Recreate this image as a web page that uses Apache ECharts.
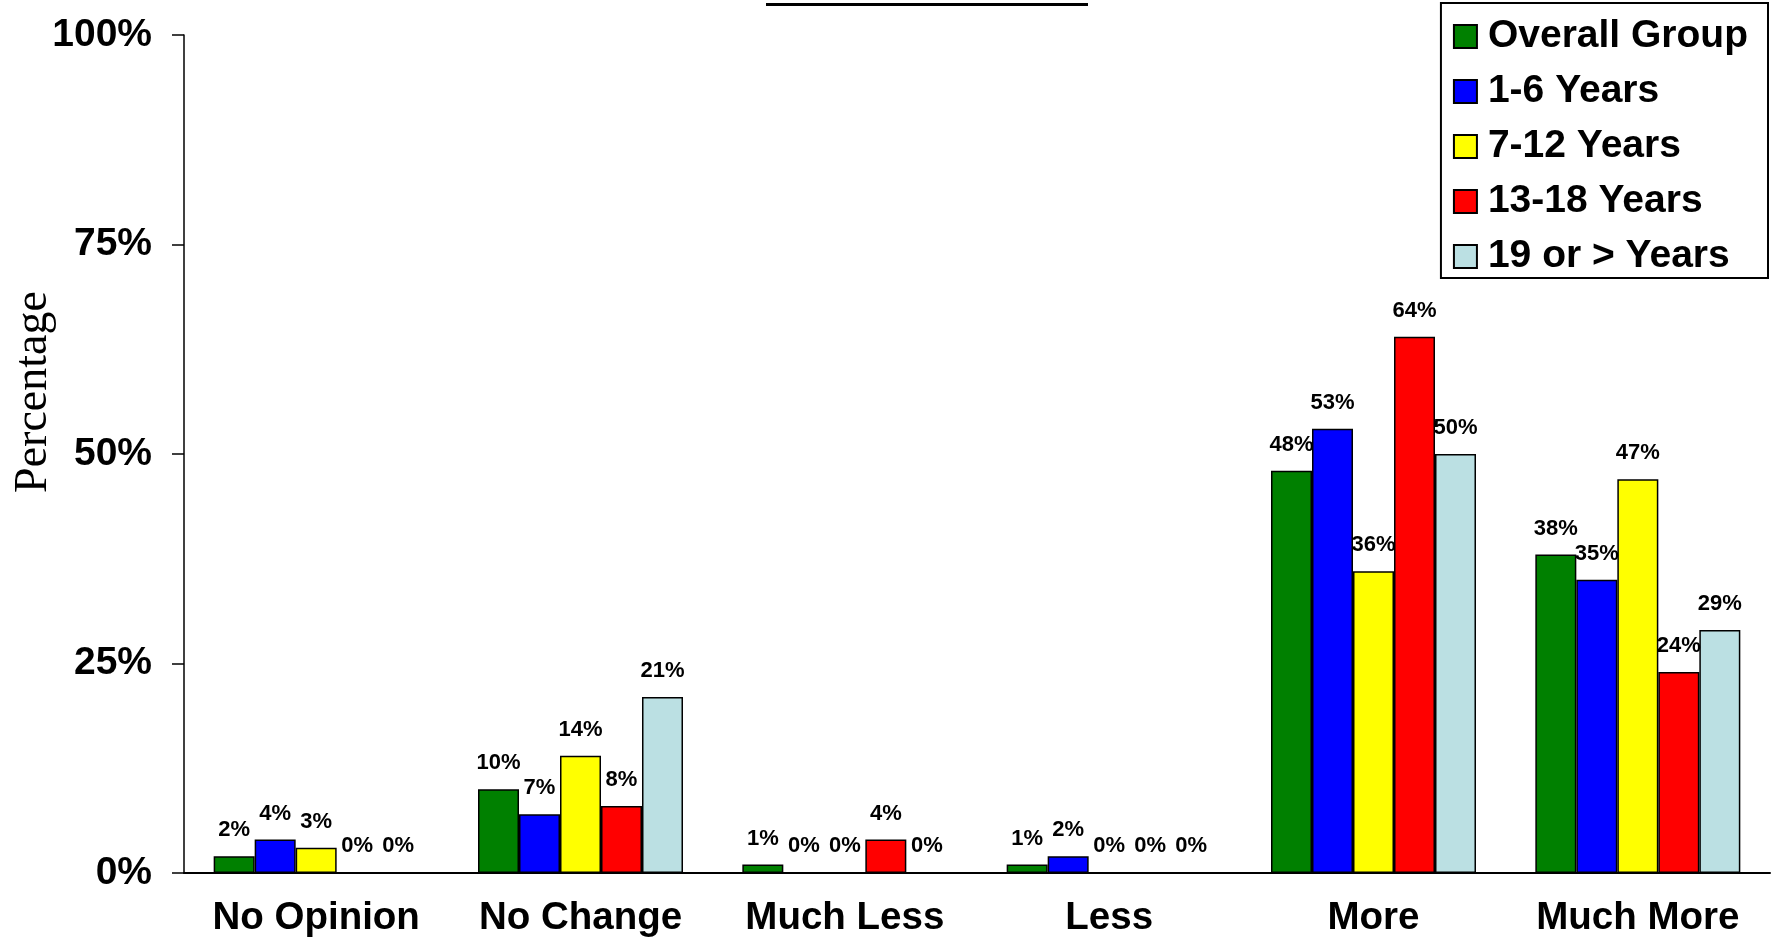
<!DOCTYPE html>
<html>
<head>
<meta charset="utf-8">
<script src="https://cdn.jsdelivr.net/npm/echarts@6/dist/echarts.min.js"></script>
<style>
html,body{margin:0;padding:0;background:#fff;}
#chart{width:1773px;height:938px;}
</style>
</head>
<body>
<div id="chart"></div>
<script>
const categories = ['No Opinion', 'No Change', 'Much Less', 'Less', 'More', 'Much More'];
const seriesNames = ['Overall Group', '1-6 Years', '7-12 Years', '13-18 Years', '19 or > Years'];
const overallGroup = [2, 10, 1, 1, 48, 38];
const years1to6 = [4, 7, 0, 2, 53, 35];
const years7to12 = [3, 14, 0, 0, 36, 47];
const years13to18 = [0, 8, 4, 0, 64, 24];
const years19plus = [0, 21, 0, 0, 50, 29];
const yTicks = [0, 25, 50, 75, 100];

const seriesData = [overallGroup, years1to6, years7to12, years13to18, years19plus];
const colors = ['#008000', '#0000FF', '#FFFF00', '#FF0000', '#BBE0E3'];
const FONT = '"Liberation Sans", Arial, sans-serif';

const chart = echarts.init(document.getElementById('chart'));
chart.setOption({
  animation: false,
  backgroundColor: '#fff',
  graphic: [{
    type: 'rect',
    left: 766, top: 3,
    shape: {width: 322, height: 3},
    style: {fill: '#000'}
  }],
  legend: {
    orient: 'vertical',
    right: 5,
    top: 3,
    padding: [14, 20, 2, 12],
    itemGap: 16,
    itemWidth: 23,
    itemHeight: 23,
    icon: 'rect',
    borderColor: '#000',
    borderWidth: 2,
    backgroundColor: '#fff',
    textStyle: {
      fontFamily: FONT, fontSize: 39, fontWeight: 'bold', color: '#000',
      lineHeight: 38, padding: [0, 0, 0, 6]
    },
    data: seriesNames
  },
  grid: {left: 184, right: 3, top: 35, bottom: 65, containLabel: false, outerBoundsMode: 'none'},
  xAxis: {
    type: 'category',
    data: categories,
    axisLine: {lineStyle: {color: '#000', width: 2}},
    axisTick: {show: false},
    axisLabel: {fontFamily: FONT, fontSize: 38.5, fontWeight: 'bold', color: '#000', margin: 26, interval: 0}
  },
  yAxis: {
    type: 'value',
    min: 0, max: 100, interval: 25,
    name: 'Percentage',
    nameLocation: 'middle',
    nameRotate: 90,
    nameGap: 127,
    nameMoveOverlap: false,
    nameTextStyle: {fontFamily: '"Liberation Serif", "Times New Roman", serif', fontSize: 46, color: '#000', padding: [0, 0, 0, 124]},
    axisLine: {show: true, lineStyle: {color: '#000', width: 1.5}},
    axisTick: {show: true, length: 12, lineStyle: {color: '#000', width: 1.5}},
    axisLabel: {fontFamily: FONT, fontSize: 39, fontWeight: 'bold', color: '#000', margin: 32,
      formatter: v => yTicks.includes(v) ? v + '%' : ''},
    splitLine: {show: false}
  },
  series: seriesNames.map((name, i) => ({
    name: name,
    type: 'bar',
    data: seriesData[i],
    barWidth: 41,
    barGap: '0%',
    itemStyle: {color: colors[i], borderColor: '#000', borderWidth: 1.5},
    label: {
      show: true, position: 'top', distance: 15,
      formatter: '{c}%',
      fontFamily: FONT, fontSize: 22, fontWeight: 'bold', color: '#000'
    }
  }))
});
</script>
</body>
</html>
